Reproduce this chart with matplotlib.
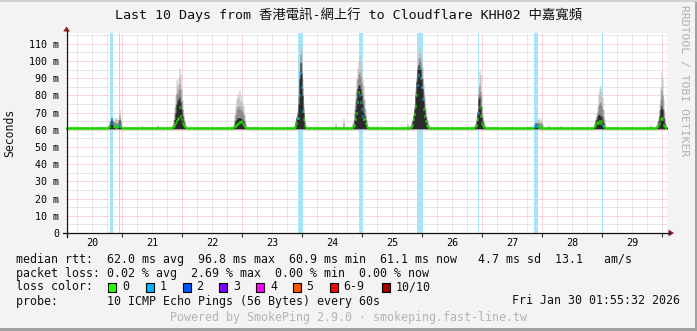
import numpy as np
import matplotlib.pyplot as plt
from matplotlib.patches import Rectangle, Polygon
from matplotlib.lines import Line2D

W, H = 697, 331

# ---- data (hours counted from Jan 20 00:00) ----
day_labels = ['20', '21', '22', '23', '24', '25', '26', '27', '28', '29']
day_noon_h = [12, 36, 60, 84, 108, 132, 156, 180, 204, 228]
t_first, t_last = 1.6, 242.0
BIN = 0.4  # one pixel column = 24 min

base_med = 61.0
base_lo = 60.6
base_hi = 61.6

# daily spikes: start hour, then one value per 24-min bin
peak_start = [18.0, 43.6, 68.0, 92.4, 116.0, 139.2, 164.8, 188.4, 212.4, 237.2]
peak_med = [
    [61.2, 61.5, 62, 64, 66, 64, 62, 62, 61.5, 61.5, 62, 62, 63, 62, 61.2],
    [61.2, 61.5, 62, 63, 64, 65, 66, 67, 73, 68, 66, 64, 63, 62, 61.5],
    [61.2, 61.5, 62, 62.5, 63, 63.5, 64, 64.5, 64.5, 65, 64, 63, 62, 61.5, 61.2],
    [61.2, 61.5, 62, 64, 67, 67, 80, 93, 85, 71, 66, 63, 61.5, 61.2],
    [61.5, 62, 63, 66, 70, 76, 82, 80, 76, 72, 68, 66, 66, 64, 62, 61.5],
    [61.5, 62, 63, 66, 69, 74, 80, 86, 92, 96, 90, 85, 78, 72, 68, 65, 63, 62, 61.5],
    [61.5, 62, 63, 66, 70, 73, 68, 64, 63, 62, 61.5],
    [61.2, 62, 63, 62.5, 62, 61.5, 61.5, 61.5, 61.5, 61.2, 61],
    [61.2, 62, 63, 64, 64.5, 64, 65, 64, 65, 63, 62, 61.5, 61],
    [61.2, 61.5, 62, 63, 64, 66, 67, 66, 63, 62, 61.5, 61],
]
peak_core = [
    [61.5, 62, 63, 65, 67, 65, 63, 63, 62, 62, 63, 63, 66, 63, 61.5],
    [61.5, 62, 63, 66, 70, 75, 77, 78, 79, 76, 72, 68, 65, 63, 62],
    [61.5, 62, 63.5, 65, 66, 67, 67, 67, 67, 66.5, 66, 65, 63, 62, 61.5],
    [61.5, 62, 64, 67, 69, 75, 90, 99, 93, 80, 70, 64, 62, 61.5],
    [62, 63, 66, 72, 78, 84, 86, 86, 84, 80, 75, 70, 68, 66, 63, 62],
    [62, 63, 65, 68, 72, 80, 88, 95, 98, 97, 95, 90, 84, 78, 72, 68, 65, 63, 62],
    [62, 63, 65, 70, 78, 79, 74, 68, 65, 63, 62],
    [61.5, 63, 64, 63.5, 63, 62, 62, 62, 62, 61.5, 61],
    [61.5, 63, 65, 66, 68, 69, 69, 68, 68, 66, 64, 62, 61.5],
    [61.5, 62, 63, 65, 68, 72, 74, 72, 67, 64, 62, 61.5],
]
peak_hi = [
    [62, 63, 65, 66, 67, 66, 65, 67, 67, 66, 67, 66, 72, 67, 62],
    [62, 63, 66, 73, 80, 89, 86, 90, 96, 92, 84, 77, 70, 66, 63],
    [62, 63, 68.6, 74, 78, 81, 79, 83, 77, 80, 76, 74, 69, 65, 62],
    [62, 63, 66, 68, 72, 86, 100, 110, 107, 90, 76, 67, 63, 62],
    [64, 66, 74, 82, 90, 96, 100, 103, 100, 96, 90, 86, 78, 72, 66, 62],
    [63, 65, 67, 70, 75, 85, 92, 99, 105, 108, 106, 103, 97, 87, 80, 73, 68, 66, 63],
    [62, 64, 68, 72, 85, 95, 92, 80, 70, 66, 63],
    [62, 63, 65, 64.5, 66, 67, 66, 65, 67, 64, 62],
    [62, 64, 67, 70, 73, 81, 84, 86, 82, 79, 72, 66, 62],
    [62, 63, 65, 67, 75, 85, 94, 90, 78, 70, 64, 62],
]

# lone slow pings on the flat part
blip_h = [31.6, 38.0, 109.2, 112.4, 138.0, 194.4, 199.2, 235.2]
blip_hi = [62.5, 63, 64, 67, 64, 63, 62.5, 63]

# periods with 1/10 packet loss
loss_from = [19.2, 22.6, 94.5, 118.8, 141.9, 166.3, 188.8, 216.0]
loss_to = [20.5, 23.2, 96.5, 120.5, 144.5, 166.7, 190.5, 216.4]

loss_names = ['0', '1', '2', '3', '4', '5', '6-9', '10/10']
loss_colors = ['#26ff00', '#00b8ff', '#0059ff', '#7e00ff', '#ff00ff',
               '#ff5500', '#ff0000', '#a00000']

# ---- build the series ----
n = int(round((t_last - t_first) / BIN)) + 1
t = t_first + BIN * np.arange(n)
med = np.full(n, base_med)
core = np.full(n, base_hi)
hi = np.full(n, base_hi)
lo = np.full(n, base_lo)

for start, m, c, h in zip(peak_start, peak_med, peak_core, peak_hi):
    k = int(round((start - t_first) / BIN))
    med[k:k + len(m)] = m
    core[k:k + len(c)] = c
    hi[k:k + len(h)] = h

for bh, bv in zip(blip_h, blip_hi):
    k = int(round((bh - t_first) / BIN))
    hi[k] = max(hi[k], bv)

mid = core + (hi - core) * 0.45

# ---- figure ----
mono = 'DejaVu Sans Mono'
fig = plt.figure(figsize=(W / 100, H / 100), dpi=100, facecolor='#f3f3f3')


def fx(x):
    return x / W


def fy(y):
    return 1 - y / H


ax = fig.add_axes([fx(66), fy(233), (667 - 66) / W, 200 / H])
ax.set_facecolor('white')
ax.set_xlim(t_first, t_last)
ax.set_ylim(0, 200 / 1.72)
for s in ax.spines.values():
    s.set_visible(False)

# grid
for g in np.arange(6, 242, 6):
    ax.axvline(g, color='#eab0b0' if g % 24 == 0 else '#d0d0d0',
               lw=0.72, ls=(0, (1, 1)), zorder=1)
for g in range(5, 117, 5):
    ax.axhline(g, color='#eab0b0' if g % 10 == 0 else '#d0d0d0',
               lw=0.72, ls=(0, (1, 1)), zorder=1)

# loss bars
for a, b in zip(loss_from, loss_to):
    ax.axvspan(a, b, color='#a8e4f8', lw=0, zorder=1.5)

# smoke
te = np.append(t, t[-1] + BIN)
ax.fill_between(te, np.append(lo, lo[-1]), np.append(hi, hi[-1]),
                step='post', color='#c4c4c4', lw=0, zorder=2)
ax.fill_between(te, np.append(lo, lo[-1]), np.append(mid, mid[-1]),
                step='post', color='#8c8c8c', lw=0, zorder=2.1)
ax.fill_between(te, np.append(lo, lo[-1]), np.append(core, core[-1]),
                step='post', color='#2a2a2a', lw=0, zorder=2.2)

# median, coloured by loss
centre = t + BIN / 2
lossy = np.zeros(n, dtype=bool)
for a, b in zip(loss_from, loss_to):
    lossy |= (centre >= a) & (centre <= b)
cols = np.where(lossy, loss_colors[1], loss_colors[0])
ax.hlines(med, t, t + BIN, colors=cols, lw=2.2, zorder=3)

# ticks
ax.set_xticks(day_noon_h, labels=day_labels)
ax.set_xticks(np.arange(24, 242, 24), minor=True)
ax.tick_params(axis='x', which='major', length=0, pad=3.6, labelsize=7.3)
ax.tick_params(axis='x', which='minor', length=3, width=0.8, color='#333333',
               direction='out')
yt = list(range(0, 111, 10))
ax.set_yticks(yt, labels=['0'] + ['%d m' % v for v in yt[1:]])
ax.tick_params(axis='y', length=0, pad=4.8, labelsize=7.2)
for lab in ax.get_xticklabels() + ax.get_yticklabels():
    lab.set_family(mono)

# axes lines + arrows
fig.add_artist(Line2D([fx(62.5), fx(670)], [fy(233), fy(233)], color='#111111', lw=0.9))
fig.add_artist(Line2D([fx(66.5), fx(66.5)], [fy(236.5), fy(31)], color='#111111', lw=0.9))
fig.add_artist(Polygon([(fx(668.5), fy(229.5)), (fx(668.5), fy(236.5)), (fx(674), fy(233))],
                       closed=True, color='#8e1c1c', lw=0))
fig.add_artist(Polygon([(fx(63.2), fy(31.5)), (fx(70.0), fy(31.5)), (fx(66.6), fy(26.5))],
                       closed=True, color='#8e1c1c', lw=0))

# frame
fig.add_artist(Rectangle((0, fy(331)), 1, 3 / H, color='#a0a0a0', lw=0))
fig.add_artist(Rectangle((fx(694.5), 0), 2.5 / W, 1, color='#a0a0a0', lw=0))
fig.add_artist(Rectangle((0, fy(2)), 1, 2 / H, color='#d2d2d2', lw=0))

# texts
fig.text(0.5, fy(15), 'Last 10 Days from 香港電訊-網上行 to Cloudflare KHH02 中嘉寬頻',
         ha='center', va='center', fontsize=9.6, color='#111111',
         family=[mono, 'Noto Sans CJK TC'])
fig.text(fx(10), fy(133), 'Seconds', rotation=90, ha='center', va='center',
         fontsize=8.3, family=mono, color='#111111')
fig.text(fx(684), fy(81), 'RRDTOOL / TOBI OETIKER', rotation=270, ha='center',
         va='center', fontsize=8.2, family=mono, color='#b0b0b0')

lines = [
    (259, 'median rtt:  62.0 ms avg  96.8 ms max  60.9 ms min  61.1 ms now   4.7 ms sd  13.1   am/s'),
    (273, 'packet loss: 0.02 % avg  2.69 % max  0.00 % min  0.00 % now'),
    (287, 'loss color:'),
    (301, 'probe:       10 ICMP Echo Pings (56 Bytes) every 60s'),
]
for yy, s in lines:
    fig.text(fx(16), fy(yy), s, ha='left', va='center', fontsize=8.4,
             family=mono, color='#111111')
fig.text(fx(680), fy(301), 'Fri Jan 30 01:55:32 2026', ha='right', va='center',
         fontsize=8.4, family=mono, color='#111111')

box_x = [108, 146, 182.5, 219, 256, 292.5, 329.5, 381.5]
for bx, name, c in zip(box_x, loss_names, loss_colors):
    fig.add_artist(Rectangle((fx(bx), fy(291.5)), 8 / W, 8.5 / H, facecolor=c,
                             edgecolor='black', lw=0.8))
    fig.text(fx(bx + 14), fy(287), name, ha='left', va='center', fontsize=8.4,
             family=mono, color='#111111')

fig.text(0.5, fy(318), 'Powered by SmokePing 2.9.0 · smokeping.fast-line.tw',
         ha='center', va='center', fontsize=8.4, family=mono, color='#b4b4b4')

fig.savefig('out.png', dpi=100, facecolor=fig.get_facecolor())
